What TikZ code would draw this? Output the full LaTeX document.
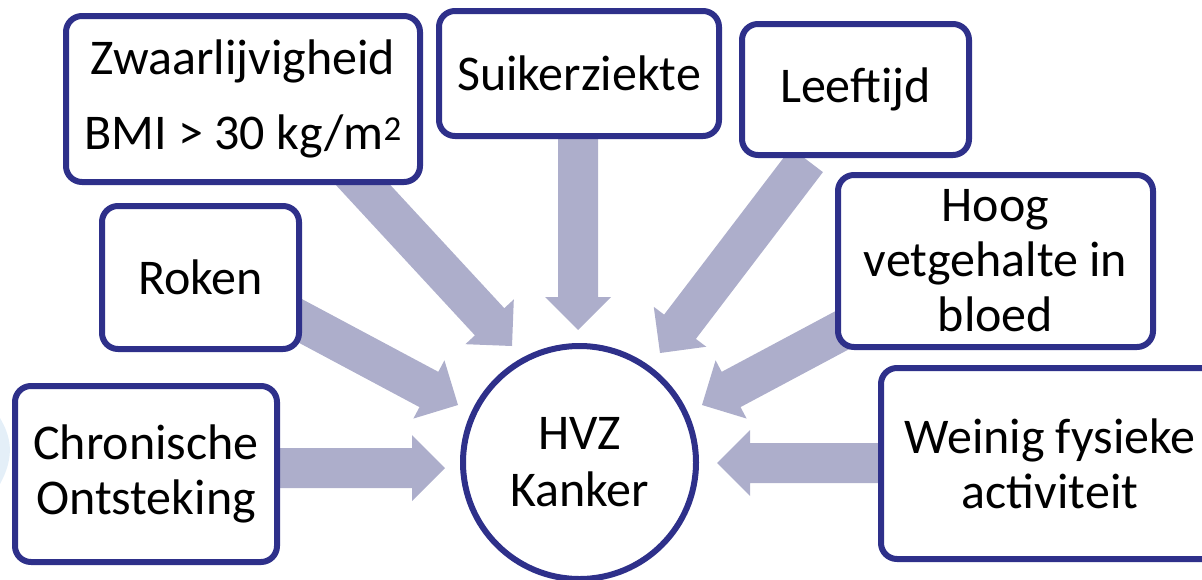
\documentclass[tikz,border=0pt]{standalone}
\usepackage{fontspec}
\setmainfont{Carlito}
\usetikzlibrary{calc}

\definecolor{boxline}{RGB}{46,48,138}
\definecolor{arrowfill}{RGB}{173,174,203}
\definecolor{haze}{RGB}{228,239,248}

% thick block arrow from coordinate #1 (tail) to coordinate #2 (tip)
\newcommand\blockarrow[2]{%
  \coordinate (#1-h) at ($(#2)!33pt!(#1)$);
  \fill[arrowfill]
    ($(#1)!20pt!90:(#2)$) -- ($(#1-h)!20pt!90:(#2)$) --
    ($(#1-h)!33pt!90:(#2)$) -- (#2) --
    ($(#1-h)!33pt!-90:(#2)$) -- ($(#1-h)!20pt!-90:(#2)$) --
    ($(#1)!20pt!-90:(#2)$) -- cycle;
}

\tikzset{
  factor/.style={draw=boxline, line width=6pt, fill=white, rounded corners=16pt,
    align=center, inner sep=0pt, font=\fontsize{50}{55}\selectfont},
  outcome/.style={draw=boxline, line width=6pt, fill=white, circle,
    minimum size=233pt, inner sep=0pt, align=center,
    font=\fontsize{50}{57}\selectfont},
}

\begin{document}
\begin{tikzpicture}[x=1pt, y=-1pt]
  \useasboundingbox (0,0) rectangle (1202,579);
  \clip (0,0) rectangle (1202,579);

  % faint backdrop at the left edge
  \fill[haze] (0,418) .. controls (10,435) and (16,455) .. (0,484) -- cycle;

  % arrow tails (behind the boxes) and tips (at the circle)
  \coordinate (t1) at (200,468);  \coordinate (p1) at (445,468);
  \coordinate (t2) at (250,294);  \coordinate (p2) at (458,405);
  \coordinate (t3) at (340,160);  \coordinate (p3) at (512,346);
  \coordinate (t4) at (578,100);  \coordinate (p4) at (578,330);
  \coordinate (t5) at (807,160);  \coordinate (p5) at (660,353);
  \coordinate (t6) at (880,310);  \coordinate (p6) at (702,405);
  \coordinate (t7) at (900,463);  \coordinate (p7) at (717,463);

  \blockarrow{t1}{p1}
  \blockarrow{t2}{p2}
  \blockarrow{t3}{p3}
  \blockarrow{t4}{p4}
  \blockarrow{t5}{p5}
  \blockarrow{t6}{p6}
  \blockarrow{t7}{p7}

  % risk factors
  \node[factor, minimum width=262pt, minimum height=176pt] (chron) at (146,474)
    {Chronische\\Ontsteking};
  \node[factor, minimum width=354pt, minimum height=166pt,
        font=\fontsize{50}{75}\selectfont] (zwaar) at (243,99)
    {Zwaarlijvigheid\\BMI > 30 kg/m\textsuperscript{2}};
  \node[factor, minimum width=280pt, minimum height=125pt] (suiker) at (579,73.5)
    {Suikerziekte};
  \node[factor, minimum width=227pt, minimum height=131pt] (leeft) at (855.5,89.5)
    {Leeftijd};
  \node[factor, minimum width=197pt, minimum height=143pt] (roken) at (200.5,277.5)
    {Roken};
  \node[factor, minimum width=315pt, minimum height=172pt] (hoog) at (995.5,261)
    {Hoog\\vetgehalte in\\bloed};
  \node[factor, minimum width=338pt, minimum height=191pt] (weinig) at (1050,463.5)
    {Weinig fysieke\\activiteit};

  % outcome
  \node[outcome] (hvz) at (579.5,462.5) {HVZ\\Kanker};
\end{tikzpicture}
\end{document}
